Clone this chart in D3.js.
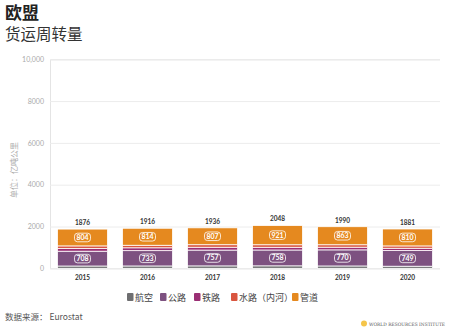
<!DOCTYPE html>
<html><head><meta charset="utf-8">
<script src="https://cdn.jsdelivr.net/npm/d3@7"></script>
<style>
body{margin:0;background:#fff;}
svg{display:block;font-family:"Noto Sans CJK SC","Noto Sans",sans-serif;}
</style></head>
<body>
<svg id="c" width="455" height="329"></svg>
<script>
const years = ["2015","2016","2017","2018","2019","2020"];
const seriesNames = ["航空","公路","铁路","水路（内河）","管道"];
const air      = [110, 112, 115, 118, 112, 100];
const road     = [708, 733, 757, 758, 770, 749];
const rail     = [135, 136, 136, 130, 128, 110];
const water    = [119, 121, 121, 121, 117, 112];
const pipeline = [804, 814, 807, 921, 863, 810];
const totals   = [1876, 1916, 1936, 2048, 1990, 1881];
const yTicks   = [0, 2000, 4000, 6000, 8000, 10000];
const colors   = ["#6e6e70", "#7d5180", "#9a2f74", "#d9553f", "#e5891f"];

const svg = d3.select("#c");
const x = d3.scaleBand().domain(years).range([50, 440]).paddingInner(0.23).paddingOuter(0.115);
const y = d3.scaleLinear().domain([0, 10000]).range([268.3, 59.3]);
const color = d3.scaleOrdinal().domain(seriesNames).range(colors);

// titles
svg.append("text").attr("x", 5).attr("y", 19).attr("font-size", 17).attr("font-weight", "bold").attr("fill", "#222").text("欧盟");
svg.append("text").attr("x", 5).attr("y", 40).attr("font-size", 15.5).attr("fill", "#333").text("货运周转量");

// grid
const yAxis = d3.axisLeft(y).tickValues(yTicks).tickSize(-390)
  .tickFormat(d => d >= 10000 ? d3.format(",")(d) : d3.format("d")(d));
const ga = svg.append("g").attr("transform", "translate(50,0)").call(yAxis);
ga.select(".domain").attr("stroke", "#e4e4e4");
ga.selectAll(".tick line").attr("stroke", "#ececec");
ga.selectAll(".tick text").attr("x", -6).attr("fill", "#aaa").attr("font-size", 7).attr("font-family", "Lato, 'Noto Sans', sans-serif");

svg.append("text").attr("transform", "translate(17,170) rotate(-90)").attr("text-anchor", "middle")
  .attr("font-size", 8).attr("fill", "#aaa").text("单位：亿吨公里");

// stacked data
const rows = years.map((yr, i) => ({year: yr, "航空": air[i], "公路": road[i], "铁路": rail[i], "水路（内河）": water[i], "管道": pipeline[i]}));
const stack = d3.stack().keys(seriesNames)(rows);

svg.append("g").selectAll("g").data(stack).join("g").attr("fill", d => color(d.key))
  .selectAll("rect").data(d => d).join("rect")
  .attr("x", d => x(d.data.year)).attr("width", x.bandwidth())
  .attr("y", d => y(d[1])).attr("height", d => y(d[0]) - y(d[1]))
  .attr("stroke", "#fff").attr("stroke-width", 0.8);

// value labels in road and pipeline
[1, 4].forEach(k => {
  const g = svg.append("g").selectAll("g").data(stack[k]).join("g")
    .attr("transform", d => `translate(${x(d.data.year) + x.bandwidth()/2},${(y(d[0]) + y(d[1]))/2})`);
  g.append("rect").attr("x", -8).attr("y", -4.3).attr("width", 16).attr("height", 8.6).attr("rx", 3)
    .attr("fill", "none").attr("stroke", "#fff").attr("stroke-width", 0.8);
  g.append("text").attr("text-anchor", "middle").attr("dy", "0.35em").attr("font-size", 7).attr("font-weight", "bold")
    .attr("fill", "#fff").attr("font-family", "Lato, 'Noto Sans', sans-serif").text(d => d[1] - d[0]);
});

// totals
svg.append("g").selectAll("text").data(years).join("text")
  .attr("x", d => x(d) + x.bandwidth()/2).attr("y", (d, i) => y(totals[i]) - 4)
  .attr("text-anchor", "middle").attr("font-size", 6.5).attr("font-weight", "bold").attr("fill", "#333")
  .attr("font-family", "Lato, 'Noto Sans', sans-serif").text((d, i) => totals[i]);

// x labels
svg.append("g").selectAll("text").data(years).join("text")
  .attr("x", d => x(d) + x.bandwidth()/2).attr("y", 280)
  .attr("text-anchor", "middle").attr("font-size", 6.5).attr("font-weight", "bold").attr("fill", "#333")
  .attr("font-family", "Lato, 'Noto Sans', sans-serif").text(d => d);

// legend
const legX = [127, 160, 194, 231, 292];
const lg = svg.append("g").selectAll("g").data(seriesNames).join("g")
  .attr("transform", (d, i) => `translate(${legX[i]},293)`);
lg.append("rect").attr("width", 6.5).attr("height", 8).attr("rx", 1).attr("fill", d => color(d));
lg.append("text").attr("x", 8).attr("y", 7.5).attr("font-size", 9).attr("fill", "#444").text(d => d);

// source
svg.append("text").attr("x", 5).attr("y", 320).attr("font-size", 8.5).attr("fill", "#555").text("数据来源： Eurostat");

// WRI logo
svg.append("circle").attr("cx", 364).attr("cy", 323.5).attr("r", 3).attr("fill", "#f5c54a");
svg.append("text").attr("x", 369).attr("y", 325.5).attr("font-size", 4.6).attr("fill", "#555")
  .attr("font-family", "'DejaVu Serif', serif").attr("textLength", 76).attr("lengthAdjust", "spacingAndGlyphs")
  .text("WORLD RESOURCES INSTITUTE");
</script>
</body></html>
